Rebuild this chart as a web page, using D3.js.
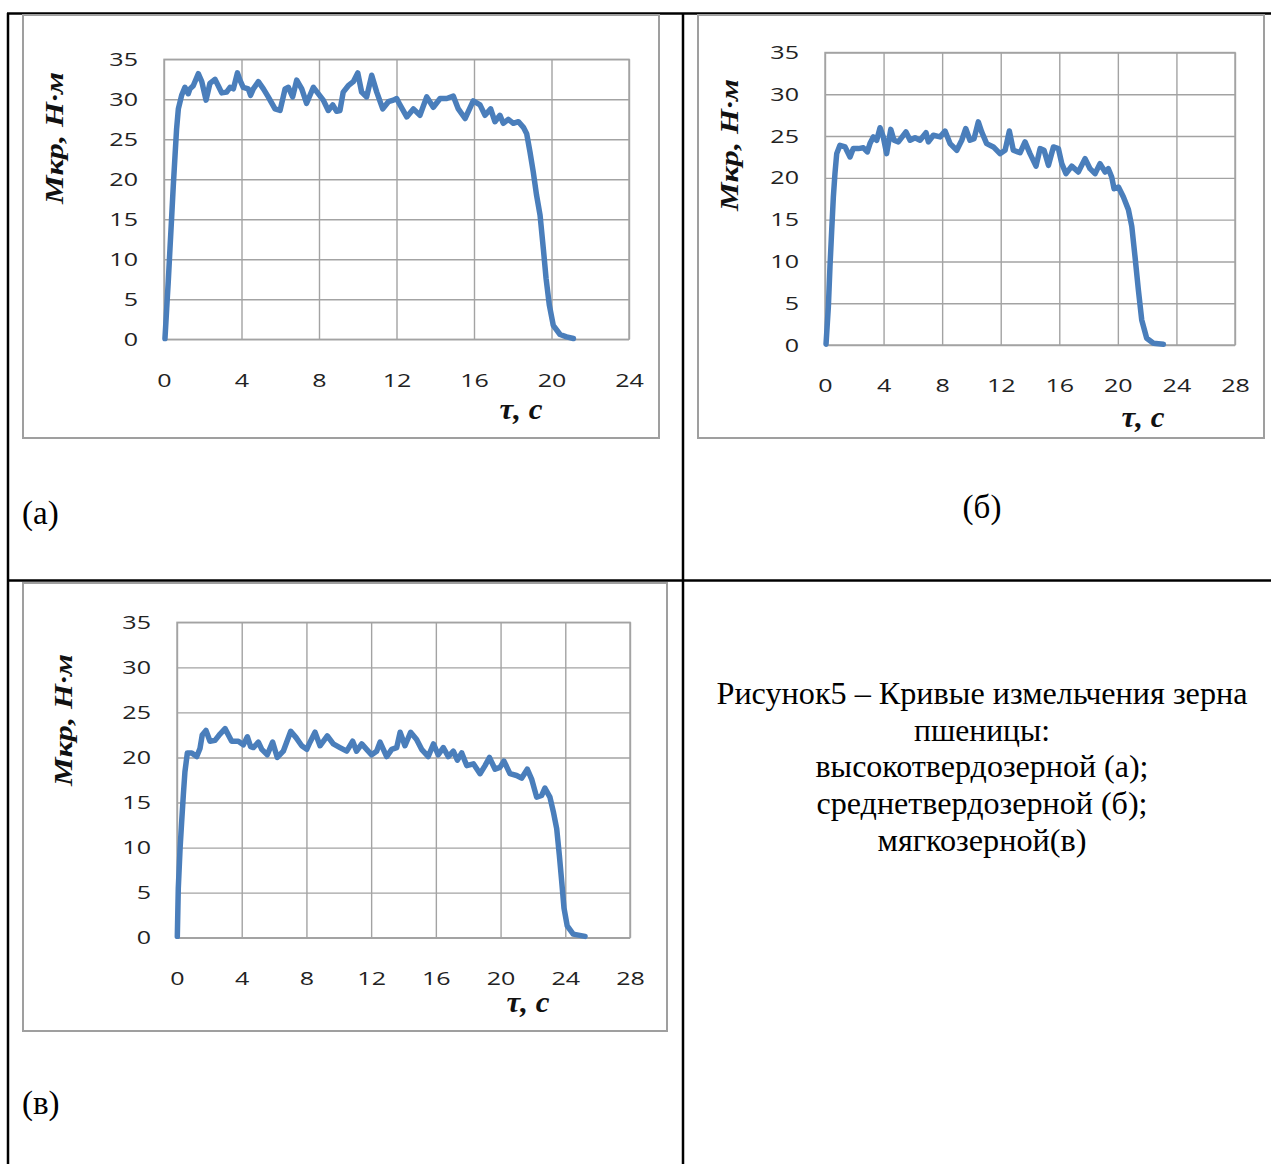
<!DOCTYPE html>
<html>
<head>
<meta charset="utf-8">
<script src="https://cdn.jsdelivr.net/npm/d3@7"></script>
<style>
  html, body { margin: 0; padding: 0; background: #fff; }
  svg { display: block; }
</style>
</head>
<body>
<script>
// Torque Mкр (N·m) against grinding time τ (s) for three wheat grain types.

// (а) high-hardness grain
const timeA = [0.05, 0.14, 0.22, 0.31, 0.40, 0.48, 0.57, 0.65, 0.74, 0.91, 1.08, 1.25, 1.34, 1.51, 1.77, 1.95, 2.17, 2.37, 2.63, 2.80,
  2.98, 3.23, 3.41, 3.58, 3.79, 3.92, 4.09, 4.35, 4.47, 4.61, 4.87, 5.13, 5.38, 5.73, 5.99, 6.25, 6.42, 6.64, 6.85, 7.11,
  7.36, 7.71, 7.96, 8.22, 8.48, 8.71, 8.91, 9.08, 9.25, 9.51, 9.77, 10.00, 10.20, 10.46, 10.72, 10.98, 11.29, 11.58, 11.84, 12.01,
  12.18, 12.53, 12.87, 13.21, 13.56, 13.90, 14.25, 14.59, 14.93, 15.19, 15.54, 15.96, 16.31, 16.57, 16.86, 17.08, 17.34, 17.51, 17.77, 18.03,
  18.29, 18.55, 18.72, 18.89, 19.06, 19.23, 19.41, 19.58, 19.72, 19.89, 20.09, 20.44, 20.78, 21.13];
const torqueA = [0.1, 3.9, 7.2, 11.4, 15.5, 19.2, 23.0, 26.3, 28.8, 30.5, 31.5, 30.7, 31.3, 31.7, 33.2, 32.2, 29.9, 32.0, 32.5, 31.7,
  30.8, 30.9, 31.5, 31.3, 33.3, 32.4, 31.5, 31.3, 30.5, 31.3, 32.2, 31.3, 30.3, 28.8, 28.6, 31.3, 31.5, 30.3, 32.4, 31.3,
  29.5, 31.5, 30.7, 29.9, 28.6, 29.3, 28.5, 28.6, 30.9, 31.7, 32.2, 33.3, 30.9, 30.3, 33.0, 30.9, 28.8, 29.7, 29.9, 30.1,
  29.3, 27.8, 28.8, 28.0, 30.3, 29.0, 30.1, 30.1, 30.4, 28.8, 27.6, 29.8, 29.3, 28.0, 28.8, 27.2, 28.0, 27.0, 27.5, 27.0,
  27.2, 26.5, 25.7, 23.4, 20.9, 18.0, 15.5, 11.3, 7.6, 4.25, 1.75, 0.6, 0.3, 0.1];

// (б) medium-hardness grain
const timeB = [0.07, 0.23, 0.34, 0.46, 0.57, 0.68, 0.80, 1.02, 1.37, 1.71, 1.93, 2.28, 2.62, 2.89, 3.07, 3.30, 3.53, 3.76, 3.98, 4.21,
  4.49, 4.71, 5.01, 5.53, 5.81, 6.15, 6.49, 6.90, 7.06, 7.40, 7.86, 8.20, 8.54, 9.00, 9.34, 9.61, 9.90, 10.18, 10.47, 10.70,
  11.04, 11.50, 11.95, 12.30, 12.59, 12.86, 13.32, 13.66, 14.00, 14.41, 14.69, 14.96, 15.26, 15.60, 15.94, 16.17, 16.46, 16.85, 17.30, 17.76,
  18.10, 18.44, 18.78, 19.13, 19.35, 19.58, 19.74, 20.04, 20.38, 20.72, 20.95, 21.17, 21.40, 21.63, 21.97, 22.43, 23.11];
const torqueB = [0.1, 4.6, 9.4, 13.8, 17.7, 20.5, 22.9, 23.9, 23.7, 22.5, 23.5, 23.5, 23.6, 23.1, 24.1, 24.9, 24.5, 26.0, 24.9, 22.9,
  25.8, 24.5, 24.3, 25.5, 24.5, 24.8, 24.5, 25.4, 24.3, 25.1, 24.9, 25.6, 24.1, 23.3, 24.5, 25.9, 24.5, 24.7, 26.7, 25.5,
  24.1, 23.7, 22.9, 23.3, 25.6, 23.3, 23.0, 24.3, 22.9, 21.4, 23.5, 23.3, 21.5, 23.7, 23.5, 21.7, 20.5, 21.4, 20.7, 22.3,
  21.1, 20.5, 21.7, 20.7, 21.1, 20.1, 18.7, 18.9, 17.7, 16.2, 14.2, 10.6, 6.6, 3.0, 0.8, 0.2, 0.1];

// (в) soft grain
const timeC = [0.02, 0.08, 0.19, 0.29, 0.39, 0.49, 0.64, 0.91, 1.22, 1.42, 1.56, 1.79, 2.04, 2.35, 2.66, 2.97, 3.38, 3.79, 4.10, 4.35,
  4.55, 4.72, 5.03, 5.24, 5.58, 5.91, 6.20, 6.57, 7.03, 7.36, 7.71, 8.02, 8.22, 8.53, 8.84, 9.29, 9.66, 10.07, 10.49, 10.86,
  11.10, 11.42, 11.72, 12.03, 12.34, 12.55, 12.96, 13.27, 13.58, 13.79, 14.09, 14.44, 14.81, 15.12, 15.53, 15.85, 16.15, 16.46, 16.77, 17.08,
  17.33, 17.60, 17.91, 18.32, 18.73, 19.04, 19.31, 19.66, 19.96, 20.21, 20.58, 20.99, 21.30, 21.65, 21.92, 22.23, 22.54, 22.74, 23.05, 23.26,
  23.47, 23.63, 23.78, 23.92, 24.12, 24.49, 25.22];
const torqueC = [0.15, 5.5, 9.9, 12.9, 15.8, 18.4, 20.5, 20.5, 20.1, 21.0, 22.5, 23.0, 21.8, 21.9, 22.6, 23.2, 21.8, 21.8, 21.4, 22.3,
  21.2, 21.1, 21.7, 20.9, 20.3, 21.7, 20.0, 20.7, 22.9, 22.2, 21.3, 20.9, 21.7, 22.8, 21.3, 22.4, 21.5, 21.1, 20.7, 21.8,
  20.7, 21.5, 20.9, 20.3, 20.7, 21.7, 20.1, 20.9, 21.1, 22.8, 21.3, 22.8, 22.0, 20.9, 20.1, 21.5, 20.3, 21.1, 20.1, 20.7,
  19.7, 20.5, 19.1, 19.3, 18.2, 19.1, 20.0, 18.7, 18.9, 19.6, 18.2, 18.0, 17.7, 18.7, 17.6, 15.6, 15.8, 16.6, 15.6, 14.0,
  12.1, 9.2, 6.2, 3.3, 1.3, 0.4, 0.15];

// Axis ticks
const yTicks = [0, 5, 10, 15, 20, 25, 30, 35];
const xTicksA = [0, 4, 8, 12, 16, 20, 24];
const xTicksBC = [0, 4, 8, 12, 16, 20, 24, 28];

// Texts
const yTitle = "Мкр, Н·м";
const xTitle = "τ, с";
const panelLabels = ["(а)", "(б)", "(в)"];
const captionLines = [
  "Рисунок5 – Кривые измельчения зерна",
  "пшеницы:",
  "высокотвердозерной (а);",
  "среднетвердозерной (б);",
  "мягкозерной(в)"
];

const W = 1271, H = 1164;
const svg = d3.select("body").append("svg")
  .attr("width", W).attr("height", H)
  .attr("viewBox", `0 0 ${W} ${H}`);
svg.append("rect").attr("width", W).attr("height", H).attr("fill", "#fff");

// Table rules
const rule = svg.append("g").attr("stroke", "#000").attr("stroke-width", 2.5).attr("fill", "none");
rule.append("line").attr("x1", 7).attr("x2", W).attr("y1", 13.5).attr("y2", 13.5);
rule.append("line").attr("x1", 7).attr("x2", W).attr("y1", 580.5).attr("y2", 580.5);
rule.append("line").attr("x1", 8).attr("x2", 8).attr("y1", 13).attr("y2", H);
rule.append("line").attr("x1", 683).attr("x2", 683).attr("y1", 13).attr("y2", H);

const panels = [
  { time: timeA, torque: torqueA, xMax: 24, xTicks: xTicksA,
    box: [23, 15, 659, 438], plot: [164, 59.3, 629, 339.3],
    yTitleAt: [57, 138], xTitleAt: [521, 419] },
  { time: timeB, torque: torqueB, xMax: 28, xTicks: xTicksBC,
    box: [698, 15, 1264, 438], plot: [825, 52.5, 1235, 345],
    yTitleAt: [732, 145], xTitleAt: [1143, 427] },
  { time: timeC, torque: torqueC, xMax: 28, xTicks: xTicksBC,
    box: [23, 583, 667, 1031], plot: [177, 622.3, 630, 937.7],
    yTitleAt: [66, 720], xTitleAt: [528, 1012] }
];

const LABEL_SX = 1.32; // horizontal stretch of tick numerals

panels.forEach(p => {
  const [bx0, by0, bx1, by1] = p.box;
  svg.append("rect")
    .attr("x", bx0).attr("y", by0).attr("width", bx1 - bx0).attr("height", by1 - by0)
    .attr("fill", "#fff").attr("stroke", "#9f9f9f").attr("stroke-width", 2);

  const [px0, py0, px1, py1] = p.plot;
  const x = d3.scaleLinear().domain([0, p.xMax]).range([px0, px1]);
  const y = d3.scaleLinear().domain([0, 35]).range([py1, py0]);
  const g = svg.append("g");

  // Y axis with horizontal gridlines
  const ya = g.append("g").attr("transform", `translate(${px0},0)`)
    .call(d3.axisLeft(y).tickValues(yTicks).tickSizeInner(-(px1 - px0)).tickSizeOuter(0).tickPadding(26));
  // X axis with vertical gridlines
  const xa = g.append("g").attr("transform", `translate(0,${py1})`)
    .call(d3.axisBottom(x).tickValues(p.xTicks).tickSizeInner(-(py1 - py0)).tickSizeOuter(0).tickPadding(34));

  [ya, xa].forEach(a => {
    a.select(".domain").remove();
    a.selectAll(".tick line").attr("stroke", "#a3a3a3").attr("stroke-width", 1.4);
    a.selectAll(".tick text")
      .attr("font-family", "'Open Sans', 'Noto Sans', sans-serif")
      .attr("font-size", 19)
      .attr("fill", "#222");
  });
  ya.selectAll(".tick text").each(function () {
    const t = d3.select(this);
    const xv = +t.attr("x");
    t.attr("x", xv / LABEL_SX).attr("transform", `scale(${LABEL_SX},1)`);
  });
  xa.selectAll(".tick text").attr("transform", `scale(${LABEL_SX},1)`);

  // Plot frame
  g.append("rect").attr("x", px0).attr("y", py0).attr("width", px1 - px0).attr("height", py1 - py0)
    .attr("fill", "none").attr("stroke", "#a3a3a3").attr("stroke-width", 1.4);

  // Torque curve
  const line = d3.line().x(i => x(p.time[i])).y(i => y(p.torque[i]));
  g.append("path")
    .attr("d", line(d3.range(p.time.length)))
    .attr("fill", "none").attr("stroke", "#4a7ebb").attr("stroke-width", 5.5)
    .attr("stroke-linejoin", "round").attr("stroke-linecap", "round");

  // Axis titles
  const [yx, yy] = p.yTitleAt;
  g.append("text")
    .attr("transform", `translate(${yx + 6},${yy}) rotate(-90)`)
    .attr("text-anchor", "middle")
    .attr("font-family", "'Liberation Serif', 'Times New Roman', serif")
    .attr("font-style", "italic").attr("font-weight", "bold")
    .attr("font-size", 26)
    .attr("textLength", 132).attr("lengthAdjust", "spacingAndGlyphs")
    .attr("fill", "#111")
    .text(yTitle);
  const [tx, ty] = p.xTitleAt;
  g.append("text")
    .attr("x", tx).attr("y", ty)
    .attr("text-anchor", "middle")
    .attr("font-family", "'Liberation Serif', 'Times New Roman', serif")
    .attr("font-style", "italic").attr("font-weight", "bold")
    .attr("font-size", 30)
    .attr("textLength", 43).attr("lengthAdjust", "spacingAndGlyphs")
    .attr("fill", "#111")
    .text(xTitle);
});

// Panel letters
const serif = "'Liberation Serif', 'Times New Roman', serif";
svg.append("text").attr("x", 22).attr("y", 524).attr("font-family", serif).attr("font-size", 33).text(panelLabels[0]);
svg.append("text").attr("x", 982).attr("y", 518).attr("text-anchor", "middle").attr("font-family", serif).attr("font-size", 33).text(panelLabels[1]);
svg.append("text").attr("x", 22).attr("y", 1114).attr("font-family", serif).attr("font-size", 33).text(panelLabels[2]);

// Figure caption
const capWidths = [531, 136, 333, 331, 209];
svg.append("g").selectAll("text").data(captionLines).join("text")
  .attr("x", 982)
  .attr("y", (d, i) => 704 + i * 36.7)
  .attr("text-anchor", "middle")
  .attr("font-family", serif)
  .attr("font-size", 31)
  .attr("textLength", (d, i) => capWidths[i]).attr("lengthAdjust", "spacingAndGlyphs")
  .attr("fill", "#000")
  .text(d => d);
</script>
</body>
</html>
